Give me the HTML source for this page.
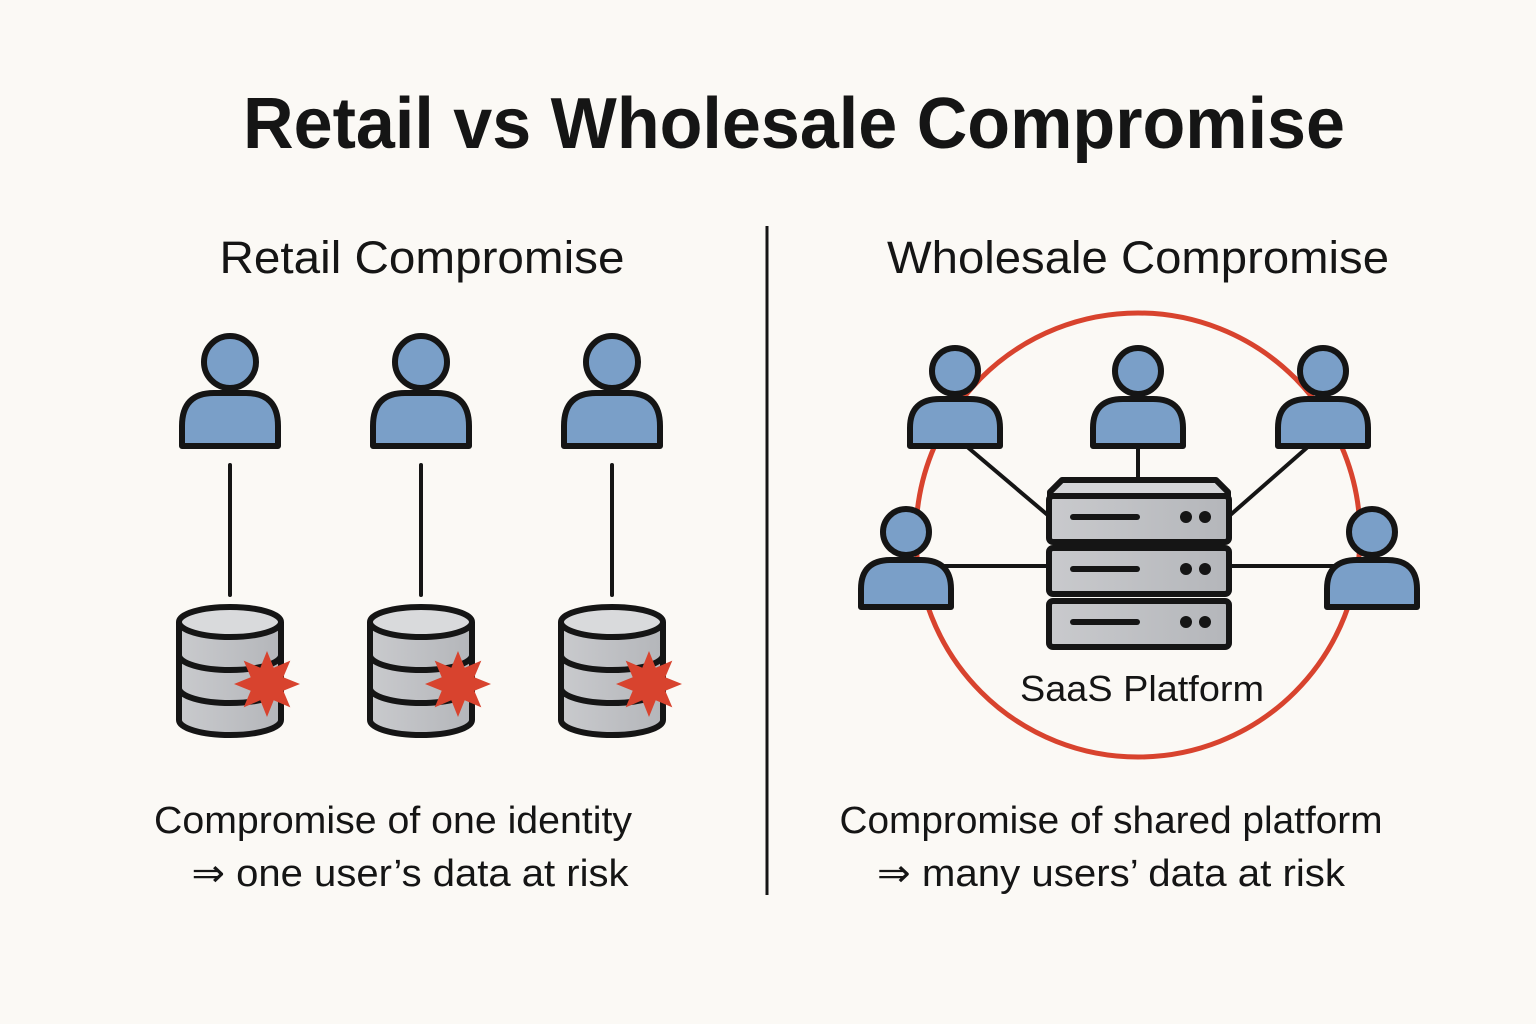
<!DOCTYPE html>
<html><head><meta charset="utf-8"><style>
html,body{margin:0;padding:0;background:#fbf9f5;}
svg{display:block;}
text{font-family:"Liberation Sans",sans-serif;fill:#151515;}
</style></head><body>
<svg width="1536" height="1024" viewBox="0 0 1536 1024" xmlns="http://www.w3.org/2000/svg">
<defs>
<linearGradient id="g" x1="0" x2="1"><stop offset="0" stop-color="#c9cacd"/><stop offset="1" stop-color="#b4b6ba"/></linearGradient>
<g id="star"><polygon fill="#d8432e" transform="scale(1.1)" points="0,-30 6.1,-14.8 21.2,-21.2 14.8,-6.1 30,0 14.8,6.1 21.2,21.2 6.1,14.8 0,30 -6.1,14.8 -21.2,21.2 -14.8,6.1 -30,0 -14.8,-6.1 -21.2,-21.2 -6.1,-14.8"/></g>
<g id="pL" stroke="#151515" stroke-width="6" fill="#7a9fc8" stroke-linejoin="round">
<circle cx="0" cy="-84" r="26"/>
<path d="M-48,0 V-20 Q-48,-53 -16,-53 H16 Q48,-53 48,-20 V0 Z"/>
</g>
<g id="pS" stroke="#151515" stroke-width="6" fill="#7a9fc8" stroke-linejoin="round">
<circle cx="0" cy="-75" r="23"/>
<path d="M-45,0 V-18 Q-45,-47 -15,-47 H15 Q45,-47 45,-18 V0 Z"/>
</g>
<g id="db" stroke="#151515" stroke-width="6" fill="url(#g)">
<path d="M-51,0 V98 A51,15 0 0 0 51,98 V0"/>
<path d="M-51,33 A51,15 0 0 0 51,33" fill="none"/>
<path d="M-51,66 A51,15 0 0 0 51,66" fill="none"/>
<ellipse cx="0" cy="0" rx="51" ry="15" fill="#d9dadc"/>
</g>
<g id="unit" stroke="#151515" stroke-width="6">
<rect x="-90" y="0" width="180" height="46" rx="4" fill="url(#g)"/>
<line x1="-66" y1="21" x2="-2" y2="21" stroke-width="6" stroke-linecap="round"/>
<circle cx="47" cy="21" r="6" fill="#151515" stroke="none"/>
<circle cx="66" cy="21" r="6" fill="#151515" stroke="none"/>
</g>
</defs>

<text x="794" y="148" font-size="72" font-weight="bold" text-anchor="middle" textLength="1102" lengthAdjust="spacingAndGlyphs">Retail vs Wholesale Compromise</text>

<line x1="767" y1="226" x2="767" y2="895" stroke="#151515" stroke-width="3"/>

<text x="422" y="273" font-size="45" text-anchor="middle" textLength="405" lengthAdjust="spacingAndGlyphs">Retail Compromise</text>
<text x="1138" y="273" font-size="45" text-anchor="middle" textLength="502" lengthAdjust="spacingAndGlyphs">Wholesale Compromise</text>

<g stroke="#151515" stroke-width="4" stroke-linecap="round">
<line x1="230" y1="465" x2="230" y2="595"/>
<line x1="421" y1="465" x2="421" y2="595"/>
<line x1="612" y1="465" x2="612" y2="595"/>
</g>
<use href="#pL" x="230" y="446"/>
<use href="#pL" x="421" y="446"/>
<use href="#pL" x="612" y="446"/>
<use href="#db" x="230" y="622"/>
<use href="#db" x="421" y="622"/>
<use href="#db" x="612" y="622"/>
<use href="#star" x="267" y="684"/>
<use href="#star" x="458" y="684"/>
<use href="#star" x="649" y="684"/>

<text x="393" y="833" font-size="38" text-anchor="middle" textLength="478" lengthAdjust="spacingAndGlyphs">Compromise of one identity</text>
<text x="410" y="886" font-size="38" text-anchor="middle" textLength="437" lengthAdjust="spacingAndGlyphs">⇒ one user’s data at risk</text>

<circle cx="1138" cy="535" r="222" fill="none" stroke="#d8432e" stroke-width="5"/>
<g stroke="#151515" stroke-width="4">
<line x1="965" y1="445" x2="1050" y2="517"/>
<line x1="1138" y1="445" x2="1138" y2="480"/>
<line x1="1310" y1="445" x2="1228" y2="517"/>
<line x1="930" y1="566" x2="1050" y2="566"/>
<line x1="1228" y1="566" x2="1350" y2="566"/>
</g>
<path d="M1050,496 V492 L1062,480 H1216 L1228,492 V496 Z" fill="#d4d5d8" stroke="#151515" stroke-width="6" stroke-linejoin="round"/>
<use href="#unit" x="1139" y="496"/>
<use href="#unit" x="1139" y="548"/>
<use href="#unit" x="1139" y="601"/>
<use href="#pS" x="955" y="446"/>
<use href="#pS" x="1138" y="446"/>
<use href="#pS" x="1323" y="446"/>
<use href="#pS" x="906" y="607"/>
<use href="#pS" x="1372" y="607"/>
<text x="1142" y="701" font-size="36" text-anchor="middle" textLength="244" lengthAdjust="spacingAndGlyphs">SaaS Platform</text>

<text x="1111" y="833" font-size="38" text-anchor="middle" textLength="543" lengthAdjust="spacingAndGlyphs">Compromise of shared platform</text>
<text x="1111" y="886" font-size="38" text-anchor="middle" textLength="468" lengthAdjust="spacingAndGlyphs">⇒ many users’ data at risk</text>
</svg>
</body></html>
